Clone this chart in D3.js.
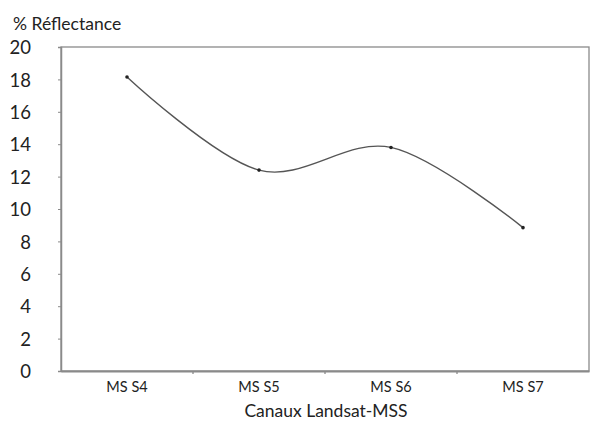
<!DOCTYPE html>
<html><head><meta charset="utf-8">
<script src="https://cdn.jsdelivr.net/npm/d3@7"></script>
<style>body{margin:0;background:#fff}svg{display:block}text{font-family:"Lato","Open Sans",sans-serif;fill:#222}</style>
</head><body><svg id="c" width="616" height="423"></svg>
<script>
const categories = ["MS S4","MS S5","MS S6","MS S7"];
const values = [18.15, 12.4, 13.8, 8.85];
const yTicks = [0,2,4,6,8,10,12,14,16,18,20];
const yTitle = "% Réflectance";
const xTitle = "Canaux Landsat-MSS";

const svg = d3.select("#c");
const m = {l:61, r:27, t:47, b:52};
const W = 616, H = 423;
const x = d3.scaleBand().domain(categories).range([m.l, W-m.r]);
const y = d3.scaleLinear().domain([0,20]).range([H-m.b, m.t]);
const axisColor = "#8a8a8a";

// frame (top/right)
svg.append("rect").attr("x", m.l).attr("y", m.t).attr("width", W-m.r-m.l).attr("height", H-m.b-m.t)
  .attr("fill","none").attr("stroke", axisColor).attr("stroke-width",1.3);

// y axis
const ya = svg.append("g").attr("transform",`translate(${m.l},0)`)
  .call(d3.axisLeft(y).tickValues(yTicks).tickSize(3).tickPadding(27).tickFormat(d3.format("d")));
ya.select(".domain").attr("stroke", axisColor).attr("stroke-width",1.5);
ya.selectAll(".tick line").attr("stroke", axisColor);
ya.selectAll(".tick text").style("font-size","18.5px").style("fill","#222").attr("dy","0.36em");

// x axis
const xa = svg.append("g").attr("transform",`translate(0,${H-m.b})`)
  .call(d3.axisBottom(x).tickSize(0).tickPadding(11));
xa.select(".domain").attr("stroke", axisColor).attr("stroke-width",1.8);
xa.selectAll(".tick text").style("font-size","14.5px").style("fill","#222");
// boundary ticks between categories
svg.append("g").selectAll("line").data(categories.slice(1)).join("line")
  .attr("x1", d=>x(d)).attr("x2", d=>x(d))
  .attr("y1", H-m.b).attr("y2", H-m.b+3)
  .attr("stroke", axisColor).attr("stroke-width",1.3);

// line
const line = d3.line().x((d,i)=>x(categories[i])+x.bandwidth()/2).y(d=>y(d))
  .curve(d3.curveCardinal.tension(0));
svg.append("path").datum(values).attr("d", line)
  .attr("fill","none").attr("stroke","#555").attr("stroke-width",1.4);
svg.append("g").selectAll("circle").data(values).join("circle")
  .attr("cx",(d,i)=>x(categories[i])+x.bandwidth()/2).attr("cy", d=>y(d))
  .attr("r",1.8).attr("fill","#222");

// titles
svg.append("text").attr("x",13).attr("y",30).style("font-size","17.5px").text(yTitle);
svg.append("text").attr("x",(m.l+W-m.r)/2+1).attr("y",417).attr("text-anchor","middle")
  .style("font-size","17.5px").text(xTitle);
</script></body></html>
